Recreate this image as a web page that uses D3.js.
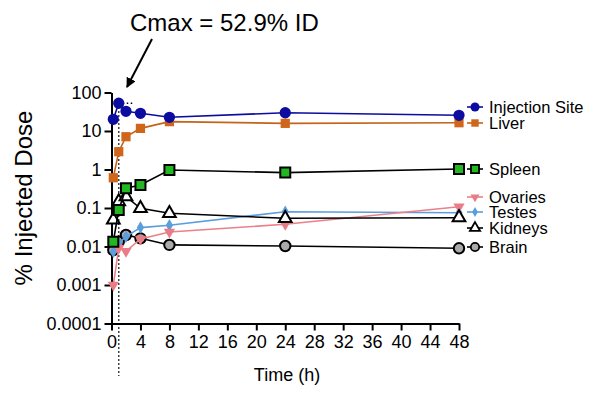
<!DOCTYPE html>
<html>
<head>
<meta charset="utf-8">
<script src="https://cdn.jsdelivr.net/npm/d3@7"></script>
<style>
  body { margin: 0; background: #fff; }
  svg { font-family: "Liberation Sans", Arial, sans-serif; }
</style>
</head>
<body>
<div id="chart"></div>
<script>
// data
const times = [0.25, 1, 2, 4, 8, 24, 48];
const injectionSite = [20.1, 52.9, 32.5, 28.8, 22.7, 29.8, 25.6];
const liver = [0.61, 2.9, 7.1, 11.7, 17.5, 15.8, 16.4];
const spleen = [0.0133, 0.089, 0.325, 0.396, 0.97, 0.83, 1.03];
const ovaries = [0.001, 0.0091, 0.0075, 0.0157, 0.0238, 0.0378, 0.108];
const testes = [0.0073, 0.0123, 0.018, 0.031, 0.0356, 0.080, 0.0755];
const kidneys = [0.049, 0.146, 0.197, 0.098, 0.073, 0.054, 0.056];
const brain = [0.008, 0.0133, 0.0199, 0.0163, 0.011, 0.0103, 0.009];

const seriesNames = ['Injection Site', 'Liver', 'Spleen', 'Ovaries', 'Testes', 'Kidneys', 'Brain'];
const xTicks = [0, 4, 8, 12, 16, 20, 24, 28, 32, 36, 40, 44, 48];
const yTicks = [0.0001, 0.001, 0.01, 0.1, 1, 10, 100];
const yTickLabels = ['0.0001', '0.001', '0.01', '0.1', '1', '10', '100'];
const cmaxTime = 1;
const cmaxValue = 52.9;

// styles per series
const styles = {
    'Injection Site': { line: '#0c0ca0', fill: '#0c0ca0', stroke: 'none', sym: d3.symbolCircle, size: 100, rot: 0 },
    'Liver': { line: '#c4631a', fill: '#d0661a', stroke: 'none', sym: d3.symbolSquare, size: 85, rot: 0 },
    'Spleen': { line: '#000', fill: '#22b822', stroke: '#000', sym: d3.symbolSquare, size: 100, rot: 0 },
    'Ovaries': { line: '#ea8088', fill: '#ea7c86', stroke: 'none', sym: d3.symbolTriangle, size: 55, rot: 180 },
    'Testes': { line: '#5c9ddc', fill: '#5c9ddc', stroke: 'none', sym: d3.symbolDiamond, size: 45, rot: 0 },
    'Kidneys': { line: '#000', fill: '#fff', stroke: '#000', sym: d3.symbolTriangle, size: 70, rot: 0 },
    'Brain': { line: '#000', fill: '#aaa', stroke: '#000', sym: d3.symbolCircle, size: 85, rot: 0 }
};
const seriesValues = [injectionSite, liver, spleen, ovaries, testes, kidneys, brain];
const drawOrder = [6, 4, 3, 5, 2, 1, 0];
const legendY = [107, 123, 169, 197, 212, 228, 247];

const width = 600, height = 394;
const svg = d3.select('#chart').append('svg')
    .attr('width', width)
    .attr('height', height);

const x = d3.scaleLinear().domain([0, 48]).range([111.5, 459]);
const y = d3.scaleLog().domain([0.0001, 100]).range([323.5, 92.5]);

// dotted cmax guides
svg.append('line')
    .attr('x1', x(cmaxTime)).attr('x2', x(cmaxTime))
    .attr('y1', y(cmaxValue)).attr('y2', 376)
    .attr('stroke', '#000').attr('stroke-width', 1.5)
    .attr('stroke-dasharray', '1.5,2.5');
svg.append('line')
    .attr('x1', x(cmaxTime)).attr('x2', x(cmaxTime) + 15)
    .attr('y1', y(cmaxValue)).attr('y2', y(cmaxValue))
    .attr('stroke', '#000').attr('stroke-width', 1.5)
    .attr('stroke-dasharray', '1.5,2.5');

// axes
const yAxis = d3.axisLeft(y)
    .tickValues(yTicks)
    .tickFormat((d, i) => yTickLabels[i])
    .tickSize(7).tickSizeOuter(0).tickPadding(3);
const gy = svg.append('g').attr('transform', `translate(${x(0)},0)`).call(yAxis);

const xAxis = d3.axisBottom(x)
    .tickValues(xTicks)
    .tickSize(7).tickSizeOuter(0).tickPadding(5);
const gx = svg.append('g').attr('transform', `translate(0,${y(0.0001)})`).call(xAxis);

[gx, gy].forEach(g => {
    g.selectAll('path, line').attr('stroke', '#000').attr('stroke-width', 2);
    g.selectAll('text').attr('fill', '#000').attr('font-size', 18)
        .attr('font-family', '"Liberation Sans", Arial, sans-serif');
});

svg.append('text')
    .attr('x', 287).attr('y', 381)
    .attr('text-anchor', 'middle')
    .attr('font-size', 18)
    .text('Time (h)');

svg.append('text')
    .attr('transform', 'translate(32,198) rotate(-90)')
    .attr('text-anchor', 'middle')
    .attr('font-size', 24)
    .text('% Injected Dose');

// series lines + markers
const line = d3.line().x(d => x(d.t)).y(d => y(d.v));
drawOrder.forEach(si => {
    const name = seriesNames[si];
    const st = styles[name];
    const pts = times.map((t, i) => ({ t: t, v: seriesValues[si][i] }));
    svg.append('path')
        .datum(pts)
        .attr('d', line)
        .attr('fill', 'none')
        .attr('stroke', st.line)
        .attr('stroke-width', 1.6);
    svg.append('g').selectAll('path').data(pts).join('path')
        .attr('d', d3.symbol(st.sym, st.size))
        .attr('transform', d => `translate(${x(d.t)},${y(d.v)}) rotate(${st.rot})`)
        .attr('fill', st.fill)
        .attr('stroke', st.stroke)
        .attr('stroke-width', 2);
});

// legend
const lg = svg.append('g');
seriesNames.forEach((name, i) => {
    const st = styles[name];
    const ly = legendY[i];
    lg.append('line')
        .attr('x1', 467).attr('x2', 483)
        .attr('y1', ly).attr('y2', ly)
        .attr('stroke', st.line).attr('stroke-width', 1.6);
    lg.append('path')
        .attr('d', d3.symbol(st.sym, st.size * 0.65))
        .attr('transform', `translate(475,${ly}) rotate(${st.rot})`)
        .attr('fill', st.fill)
        .attr('stroke', st.stroke)
        .attr('stroke-width', 1.8);
    lg.append('text')
        .attr('x', 489).attr('y', ly + 5.5)
        .attr('font-size', 16.5)
        .text(name);
});

// cmax annotation
svg.append('defs').append('marker')
    .attr('id', 'arrowHead')
    .attr('viewBox', '0 0 10 10')
    .attr('refX', 9).attr('refY', 5)
    .attr('markerWidth', 5).attr('markerHeight', 5)
    .attr('orient', 'auto')
    .append('path').attr('d', 'M0,0 L10,5 L0,10 z').attr('fill', '#000');

svg.append('line')
    .attr('x1', 152).attr('y1', 39)
    .attr('x2', 127).attr('y2', 87)
    .attr('stroke', '#000').attr('stroke-width', 2)
    .attr('marker-end', 'url(#arrowHead)');

svg.append('text')
    .attr('x', 130).attr('y', 31)
    .attr('font-size', 24)
    .text(`Cmax = ${cmaxValue}% ID`);
</script>
</body>
</html>
